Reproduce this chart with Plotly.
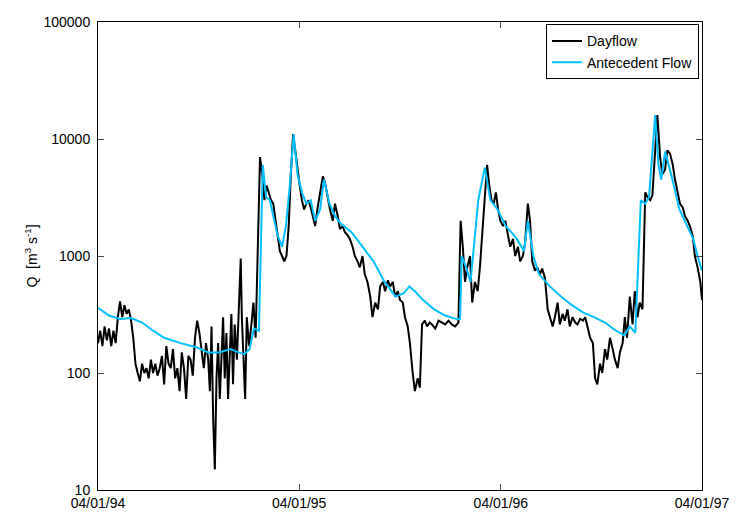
import plotly.graph_objects as go
import pandas as pd

start = pd.Timestamp("1994-04-01")
# (days since 1994-04-01, flow)
dayflow = [(0,180),(4,230),(8,170),(12,250),(16,190),(20,240),(24,170),(28,230),(32,180),(36,300),(40,410),(44,300),(48,380),(52,320),(56,350),(60,280),(64,200),(68,120),(72,100),(76,85),(80,120),(84,100),(88,110),(92,90),(96,130),(100,100),(104,120),(108,95),(112,110),(116,140),(120,80),(124,170),(128,120),(132,110),(136,160),(140,90),(144,110),(148,70),(152,150),(156,110),(160,60),(164,140),(168,130),(172,95),(176,200),(180,280),(184,220),(188,150),(192,110),(196,180),(200,130),(203,70),(206,250),(209,40),(212,15),(215,90),(218,180),(221,60),(224,150),(227,300),(230,90),(233,220),(236,60),(239,160),(242,320),(245,80),(248,260),(252,130),(256,500),(259,950),(261,300),(264,150),(267,60),(270,300),(274,170),(278,250),(282,400),(286,200),(290,1500),(294,7000),(298,5000),(302,3000),(306,4000),(310,3500),(314,3000),(318,2800),(322,2000),(326,1500),(330,1100),(334,1000),(338,900),(342,1000),(346,1800),(350,5000),(354,11000),(358,8000),(362,5500),(366,4000),(370,3000),(374,2500),(378,2800),(382,3000),(386,2600),(390,2200),(394,1800),(398,2500),(403,3500),(408,4800),(412,4200),(416,3200),(421,2500),(426,2000),(430,2800),(435,2200),(439,1700),(444,1800),(448,1600),(453,1500),(457,1400),(462,1200),(466,1000),(471,900),(475,800),(480,1000),(484,700),(489,600),(494,450),(498,300),(503,400),(508,350),(512,550),(517,600),(521,500),(526,620),(530,550),(535,600),(539,450),(544,500),(548,420),(553,400),(557,300),(562,250),(566,180),(571,100),(575,70),(580,90),(584,75),(588,260),(593,280),(597,250),(602,270),(606,260),(612,240),(618,280),(624,270),(630,260),(636,280),(642,260),(648,250),(654,270),(658,2000),(662,1200),(666,600),(670,800),(675,1000),(679,400),(684,600),(689,500),(693,800),(697,1500),(700,2500),(703,4500),(706,6000),(710,4000),(714,3000),(718,2800),(722,3500),(726,2500),(730,2000),(735,1800),(739,2000),(744,1500),(748,1200),(753,1400),(757,1000),(762,1200),(766,900),(771,1000),(775,1300),(780,2800),(784,2000),(788,900),(793,750),(797,800),(802,700),(806,780),(811,650),(816,350),(820,300),(825,250),(829,300),(834,400),(838,260),(843,320),(847,280),(852,350),(856,250),(861,300),(866,270),(870,260),(875,290),(880,280),(884,300),(888,250),(893,200),(898,180),(902,90),(906,80),(911,120),(915,100),(920,160),(924,130),(929,200),(934,160),(938,130),(943,110),(947,150),(952,180),(956,300),(960,200),(965,450),(970,260),(974,500),(979,300),(983,400),(988,350),(993,3500),(997,3200),(1002,3000),(1006,3300),(1011,9000),(1015,16000),(1020,7000),(1024,5000),(1029,5500),(1033,8000),(1038,7500),(1043,6000),(1047,4500),(1052,3500),(1056,2800),(1061,2600),(1065,2200),(1070,2000),(1074,1800),(1079,1500),(1083,1000),(1088,800),(1093,600),(1096,420)]
antecedent = [(0,360),(20,310),(40,290),(60,295),(80,270),(100,230),(120,200),(150,180),(180,165),(200,150),(220,150),(240,160),(255,150),(265,145),(275,160),(283,240),(292,230),(296,1500),(299,6000),(305,3200),(312,3000),(318,2200),(326,1500),(334,1200),(341,1800),(348,4000),(355,11000),(362,5000),(370,3500),(378,2800),(386,3000),(394,2000),(403,2500),(410,4500),(420,2800),(430,2200),(440,1900),(460,1600),(480,1200),(500,900),(520,600),(540,450),(555,480),(565,550),(575,500),(590,420),(610,350),(630,310),(650,290),(657,290),(660,1000),(668,800),(676,600),(690,3000),(702,5700),(712,3000),(725,2500),(740,1800),(750,1600),(760,1400),(773,1100),(780,2000),(790,1000),(800,700),(820,550),(840,450),(860,380),(880,330),(900,300),(920,270),(940,230),(955,210),(965,250),(975,220),(985,3000),(993,2800),(1000,3200),(1011,16000),(1017,6000),(1022,4500),(1029,7800),(1040,5000),(1055,2500),(1070,1800),(1080,1400),(1088,1000),(1096,750)]
tick_dates = ["1994-04-01","1995-04-01","1996-04-01","1997-04-01"]
tick_labels = ["04/01/94","04/01/95","04/01/96","04/01/97"]
ytick_vals = [10,100,1000,10000,100000]

day_x = [start + pd.Timedelta(days=d) for d, _ in dayflow]
day_q = [q for _, q in dayflow]
ant_x = [start + pd.Timedelta(days=d) for d, _ in antecedent]
ant_q = [q for _, q in antecedent]

fig = go.Figure()
fig.add_trace(go.Scatter(x=day_x, y=day_q, mode="lines", name="Dayflow",
                         line=dict(color="black", width=2)))
fig.add_trace(go.Scatter(x=ant_x, y=ant_q, mode="lines", name="Antecedent Flow",
                         line=dict(color="#00BFFF", width=2)))
fig.update_layout(
    width=738, height=515, plot_bgcolor="white", paper_bgcolor="white",
    margin=dict(l=90, r=44, t=14, b=33),
    font=dict(family="Liberation Sans, Arial", size=14, color="black"),
    legend=dict(x=0.995, y=0.995, xanchor="right", yanchor="top",
                bordercolor="black", borderwidth=1, bgcolor="white",
                font=dict(size=14), tracegroupgap=0),
)
fig.update_xaxes(range=[tick_dates[0], tick_dates[-1]], tickvals=tick_dates, ticktext=tick_labels,
                 showline=True, mirror="ticks", linecolor="black", linewidth=1, automargin=False,
                 ticks="inside", ticklen=6, showgrid=False)
fig.update_yaxes(type="log", range=[1, 5], tickvals=ytick_vals, ticktext=[str(v) for v in ytick_vals],
                 showline=True, mirror="ticks", linecolor="black", linewidth=1, automargin=False,
                 ticks="inside", ticklen=6, showgrid=False, ticklabelstandoff=4,
                 title=dict(text="Q  [m<sup>3</sup> s<sup>-1</sup>]", standoff=2, font=dict(size=14)))
fig.write_html("out.html")
